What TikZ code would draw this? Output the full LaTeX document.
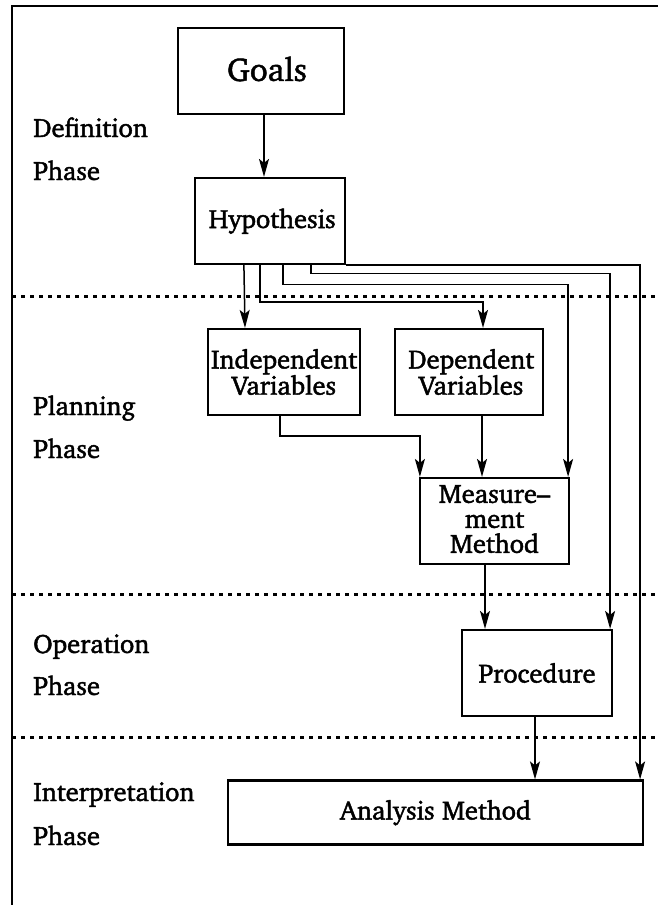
\documentclass[tikz,border=0pt]{standalone}
\usepackage[T1]{fontenc}
\usepackage{charter}
\usetikzlibrary{arrows.meta}

% slightly heavier glyphs: fill and stroke the outlines
\newcommand\heavyon{\special{pdf:literal direct 2 Tr 0.45 w}}
\newcommand\heavyoff{\special{pdf:literal direct 0 Tr}}

\tikzset{
  txt/.style={font=\fontsize{26.5}{27}\selectfont\heavyon, execute at end node=\heavyoff},
  box/.style={draw, line width=2.2pt, inner sep=0pt, align=center, txt},
  arr/.style={line width=1.5pt, -{Stealth[length=18pt,width=10pt,inset=4pt]}},
  sep/.style={line width=3pt, dash pattern=on 4pt off 5pt},
  phase/.style={anchor=base west, inner sep=0pt, txt},
}

\begin{document}
\begin{tikzpicture}[x=1pt, y=-1pt]
\useasboundingbox (0,0) rectangle (658,905);

% outer frame (left and top edges only)
\draw[line width=1.5pt] (12,905) -- (12,6) -- (658,6);

% phase separators
\draw[sep] (12,296) -- (658,296);
\draw[sep] (12,594) -- (658,594);
\draw[sep] (12,737) -- (658,737);

% phase labels
\node[phase] (defA) at (33,137) {Definition};
\node[phase] (defB) at (33,180) {Phase};
\node[phase] (planA) at (33,415) {Planning};
\node[phase] (planB) at (33,458) {Phase};
\node[phase] (operA) at (33,653) {Operation};
\node[phase] (operB) at (33,695) {Phase};
\node[phase] (intA) at (33,801) {Interpretation};
\node[phase] (intB) at (33,845) {Phase};

% boxes
\node[box, minimum width=166pt, minimum height=86pt] (goals) at (261,71) {};
\node[inner sep=0pt, txt, font=\fontsize{33}{34}\selectfont\heavyon] (goalstext) at (267,69) {Goals};
\node[box, minimum width=150pt, minimum height=86pt] (hyp) at (270,221) {\,Hypothesis};
\node[box, minimum width=152pt, minimum height=86pt, font=\fontsize{26.5}{25}\selectfont\heavyon] (indep) at (284,372) {Independent\\Variables};
\node[box, minimum width=148pt, minimum height=86pt, font=\fontsize{26.5}{25}\selectfont\heavyon] (dep) at (469,372) {\,Dependent\\\,Variables};
\node[box, minimum width=149pt, minimum height=86pt] (meas) at (494.5,521) {};
\node[inner sep=0pt, align=center, txt, font=\fontsize{26.5}{25}\selectfont\heavyon] (meastext) at (494.5,519) {Measure--\\ment\\Method};
\node[box, minimum width=150pt, minimum height=86pt] (proc) at (537,673) {Procedure};
\node[box, minimum width=415pt, minimum height=64pt] (anal) at (435.5,812.5) {Analysis Method};

% connectors
\draw[arr] ([xshift=3pt]goals.south) -- ([xshift=-6pt]hyp.north);
\draw[arr] ([xshift=50pt]hyp.south west) -- ([xshift=-39pt]indep.north);
\draw[arr] ([xshift=66pt]hyp.south west) |- ([xshift=14pt,yshift=26pt]dep.north) -- ([xshift=14pt]dep.north);
\draw[arr] ([xshift=89pt]hyp.south west) |- ([xshift=-2pt,yshift=192.5pt]meas.north east) -- ([xshift=-2pt]meas.north east);
\draw[arr] ([xshift=117pt]hyp.south west) |- ([xshift=-3pt,yshift=355.5pt]proc.north east) -- ([xshift=-3pt]proc.north east);
\draw[arr] (hyp.south east) -| ([xshift=-4pt]anal.north east);
\draw[arr] ([xshift=-4pt]indep.south) |- ([xshift=1pt,yshift=41pt]meas.north west) -- ([xshift=1pt]meas.north west);
\draw[arr] ([xshift=13pt]dep.south) -- ([xshift=-12.5pt]meas.north);
\draw[arr] ([xshift=-9.5pt]meas.south) -- ([xshift=-52pt]proc.north);
\draw[arr] ([xshift=-2pt]proc.south) -- ([xshift=99.5pt]anal.north);
\end{tikzpicture}
\end{document}
